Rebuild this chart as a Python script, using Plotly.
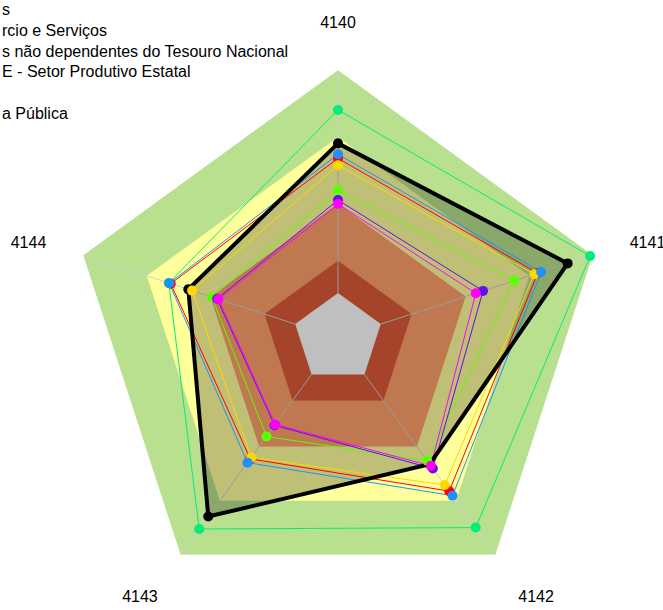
import plotly.graph_objects as go

# ---------------- data ----------------
categories = ["4140", "4141", "4142", "4143", "4144"]

# background bands (outer level of each band, drawn largest first)
band_levels = [100, 70, 40, 14.5, 0]
band_colors = ["#B8E08E", "#FFFF9C", "#FFA06B", "#DC5A3A", "#FFFFFF"]

axis_min = -20.18
axis_max = 100

springgreen_vals = [82.1, 98.7, 84.9, 85.7, 59.6]
black_vals = [67.1, 88.1, 49.8, 78.8, 50.4]
blue_vals = [62.2, 75.6, 67.2, 48.9, 59.4]
red_vals = [60.4, 74.0, 64.7, 46.8, 58.7]
gold_vals = [57.3, 72.4, 61.3, 46.0, 48.6]
green_vals = [46.2, 62.9, 47.9, 34.4, 39.3]
violet_vals = [41.7, 48.2, 52.2, 28.2, 36.8]
magenta_vals = [39.9, 44.8, 50.7, 27.7, 36.2]

# visible (cut-off) legend texts, top to bottom
legend_texts = ["s", "rcio e Serviços", "s não dependentes do Tesouro Nacional",
                "E - Setor Produtivo Estatal", "", "a Pública"]

# series: (key, values, color)
series = [
    ("springgreen", springgreen_vals, "#00EE78"),
    ("red", red_vals, "#FF0000"),
    ("gold", gold_vals, "#FFD700"),
    ("blue", blue_vals, "#1E90FF"),
    ("green", green_vals, "#5CFF00"),
    ("violet", violet_vals, "#6010E8"),
    ("magenta", magenta_vals, "#FF00FF"),
    ("black", black_vals, "#000000"),
]
marker_order = ["black", "springgreen", "red", "gold", "blue", "green", "violet", "magenta"]

FONT = "Liberation Sans, Arial, sans-serif"


def closed(v):
    return list(v) + [v[0]]


theta_closed = closed(categories)

fig = go.Figure()

# background bands
for lev, col in zip(band_levels, band_colors):
    fig.add_trace(go.Scatterpolar(
        r=[lev] * 6, theta=theta_closed, mode="lines", fill="toself",
        fillcolor=col, line=dict(width=0, color=col), showlegend=False,
        hoverinfo="skip"))

# spokes
sr, st = [], []
for c in categories:
    sr += [band_levels[-1], band_levels[0], None]
    st += [c, c, None]
fig.add_trace(go.Scatterpolar(r=sr, theta=st, mode="lines",
                              line=dict(color="#D0D0D0", width=1),
                              showlegend=False, hoverinfo="skip", connectgaps=False))

# translucent fill of the highlighted (black) series
fig.add_trace(go.Scatterpolar(r=closed(black_vals), theta=theta_closed, mode="lines",
                              fill="toself", fillcolor="rgba(0,0,0,0.25)",
                              line=dict(width=0, color="rgba(0,0,0,0)"),
                              showlegend=False, hoverinfo="skip"))

# lines
for name, vals, col in series:
    fig.add_trace(go.Scatterpolar(
        r=closed(vals), theta=theta_closed, mode="lines",
        line=dict(color=col, width=4 if name == "black" else 1),
        name=name, showlegend=False, hoverinfo="skip"))

# markers
sdict = {s[0]: s for s in series}
for name in marker_order:
    _, vals, col = sdict[name]
    fig.add_trace(go.Scatterpolar(
        r=vals, theta=categories, mode="markers",
        marker=dict(color=col, size=10, line=dict(width=0)),
        showlegend=False, name=name))

W, H = 663, 610
CX, CY, R = 338, 338, 268
fig.update_layout(
    width=W, height=H,
    margin=dict(l=0, r=0, t=0, b=0, autoexpand=False),
    paper_bgcolor="white",
    font=dict(family=FONT, size=16, color="#000000"),
    showlegend=False,
    polar=dict(
        domain=dict(x=[(CX - R) / W, (CX + R) / W], y=[1 - (CY + R) / H, 1 - (CY - R) / H]),
        gridshape="linear",
        bgcolor="rgba(0,0,0,0)",
        radialaxis=dict(range=[axis_min, axis_max], visible=False, showgrid=False),
        angularaxis=dict(direction="clockwise", rotation=90, showgrid=False,
                         showline=False, showticklabels=True, ticks="outside",
                         ticklen=35, tickcolor="rgba(0,0,0,0)",
                         tickfont=dict(size=16, family=FONT, color="#000000")),
    ),
    annotations=[dict(
        text="<br>".join(legend_texts), xref="paper", yref="paper",
        x=0, y=1 + 1.4 / H, xanchor="left", yanchor="top", align="left",
        showarrow=False, font=dict(size=16, family=FONT, color="#000000"))],
)

fig.write_html("out.html", config={"displayModeBar": False},
               post_script="document.body.style.margin='0';")
